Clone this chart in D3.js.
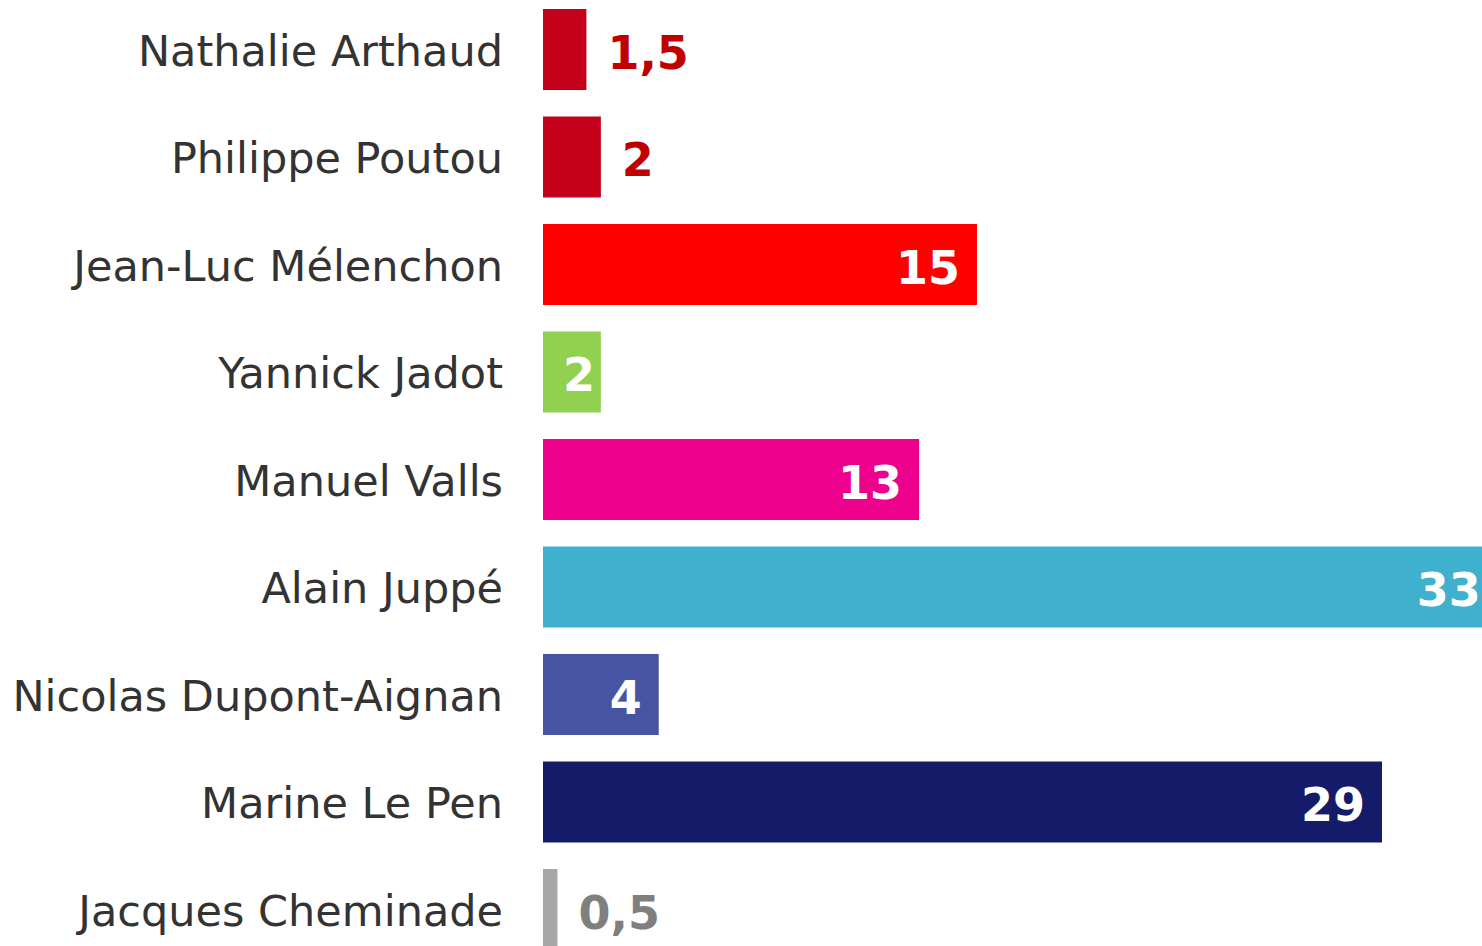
<!DOCTYPE html>
<html><head><meta charset="utf-8">
<script src="https://cdn.jsdelivr.net/npm/d3@7"></script>
<style>html,body{margin:0;padding:0;background:#fff;overflow:hidden}</style>
</head><body>
<svg id="chart" width="1482" height="946"></svg>
<script>
const candidates = ["Nathalie Arthaud","Philippe Poutou","Jean-Luc Mélenchon","Yannick Jadot","Manuel Valls","Alain Juppé","Nicolas Dupont-Aignan","Marine Le Pen","Jacques Cheminade"];
const values = [1.5, 2, 15, 2, 13, 33, 4, 29, 0.5];
const valueLabels = ["1,5","2","15","2","13","33","4","29","0,5"];
const barColors = ["#c4001a","#c4001a","#ff0000","#92d050","#ec008c","#3fb1ce","#4753a3","#141c69","#a6a6a6"];
const labelInside = [false,false,true,true,true,true,true,true,false];
const outsideColors = ["#c00000","#c00000","#fff","#fff","#fff","#fff","#fff","#fff","#7f7f7f"];

const svg = d3.select("#chart");
const x0 = 543;
const x = d3.scaleLinear().domain([0, 29]).range([x0, 1382]);
const y = d3.scaleBand().domain(candidates).range([-4.25, 963.25]).paddingInner(0.2465).paddingOuter(0.12325);

const data = candidates.map((c,i)=>({c, v:values[i], lab:valueLabels[i], col:barColors[i], inside:labelInside[i], tcol:outsideColors[i]}));

svg.selectAll("rect.bar").data(data).enter().append("rect")
  .attr("x", x(0)).attr("y", d=>y(d.c))
  .attr("width", d=>x(d.v)-x(0)).attr("height", y.bandwidth())
  .attr("fill", d=>d.col);

svg.selectAll("text.cat").data(data).enter().append("text")
  .attr("x", 503).attr("y", d=>y(d.c)+y.bandwidth()/2+16)
  .attr("text-anchor","end")
  .style("font-family","'DejaVu Sans', Verdana, sans-serif").style("font-size","43px")
  .attr("fill","#333333")
  .text(d=>d.c);

const vl = svg.selectAll("text.val").data(data).enter().append("text")
  .attr("y", d=>y(d.c)+y.bandwidth()/2+19)
  .style("font-family","'DejaVu Sans', Verdana, sans-serif").style("font-size","46px").style("font-weight","bold")
  .attr("fill", d=>d.tcol)
  .text(d=>d.lab);
vl.each(function(d){
  const w = this.getComputedTextLength();
  let xs;
  if (d.inside) {
    xs = x(d.v) - 17 - w;
    if (xs < x0 + 20) xs = x0 + 20;
  } else {
    xs = x(d.v) + 21;
  }
  d3.select(this).attr("x", xs);
});
</script>
</body></html>
